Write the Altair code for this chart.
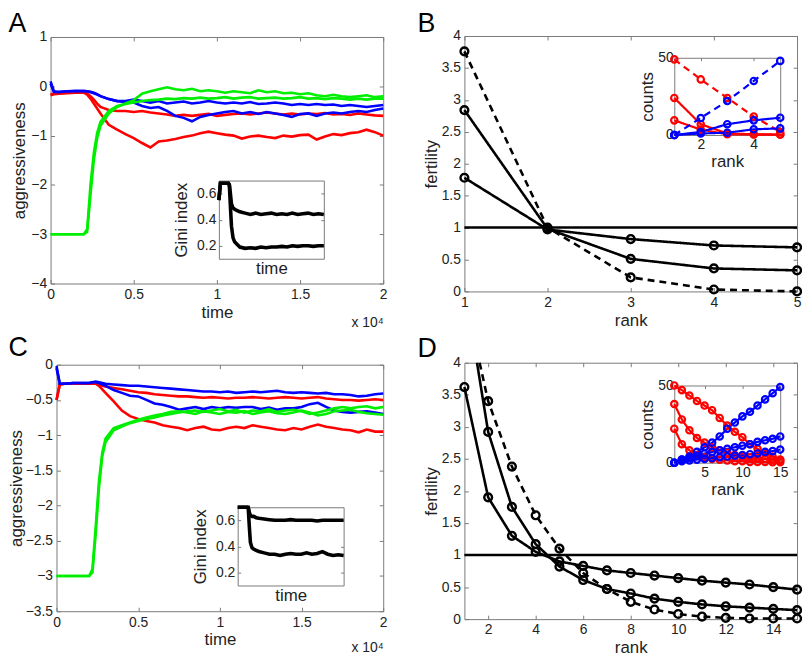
import altair as alt
import pandas as pd

# ---------------- data ----------------
T = [0, 200, 500, 1000, 1500, 2000, 2200, 2400, 2600, 2800, 3000, 3500, 4000, 4500,
     5000, 5500, 6000, 6500, 7000, 7500, 8000, 8500, 9000, 9500, 10000, 10500, 11000,
     11500, 12000, 12500, 13000, 13500, 14000, 14500, 15000, 15500, 16000, 16500, 17000,
     17500, 18000, 18500, 19000, 19500, 20000]

A_RED_1 = [-0.16, -0.15, -0.14, -0.13, -0.12, -0.12, -0.15, -0.2, -0.27, -0.35, -0.42, -0.48, -0.5, -0.5,
           -0.52, -0.5, -0.53, -0.55, -0.57, -0.6, -0.58, -0.6, -0.58, -0.56, -0.6, -0.58, -0.56,
           -0.55, -0.57, -0.55, -0.53, -0.55, -0.57, -0.55, -0.57, -0.55, -0.56, -0.54, -0.57,
           -0.56, -0.58, -0.55, -0.57, -0.59, -0.6]
A_RED_2 = [-0.18, -0.16, -0.15, -0.14, -0.13, -0.13, -0.17, -0.25, -0.35, -0.45, -0.55, -0.78, -0.88, -0.97,
           -1.05, -1.15, -1.24, -1.12, -1.1, -1.07, -1.03, -1.0, -0.95, -0.92, -0.95, -0.98, -1.0,
           -1.06, -1.02, -1.0, -1.03, -1.05, -1.0, -1.02, -0.99, -0.98, -1.08, -1.02, -0.97,
           -0.99, -0.95, -0.93, -0.88, -0.93, -1.0]
A_BLUE_1 = [0.1, -0.1, -0.12, -0.1, -0.09, -0.1, -0.1, -0.11, -0.13, -0.16, -0.2, -0.26, -0.3, -0.3,
            -0.27, -0.3, -0.33, -0.3, -0.35, -0.33, -0.31, -0.35, -0.33, -0.3, -0.33, -0.35, -0.33,
            -0.35, -0.32, -0.36, -0.35, -0.33, -0.35, -0.38, -0.36, -0.38, -0.36, -0.38, -0.37,
            -0.4, -0.38, -0.4, -0.42, -0.4, -0.38]
A_BLUE_2 = [0.05, -0.12, -0.11, -0.1, -0.1, -0.09, -0.1, -0.12, -0.14, -0.17, -0.2, -0.26, -0.3, -0.32,
            -0.33, -0.4, -0.44, -0.42, -0.5, -0.6, -0.64, -0.71, -0.62, -0.58, -0.55, -0.52, -0.5,
            -0.55, -0.52, -0.56, -0.52, -0.55, -0.58, -0.62, -0.56, -0.55, -0.6, -0.55, -0.53,
            -0.55, -0.52, -0.5, -0.52, -0.48, -0.45]
A_GREEN_1 = [-3, -3, -3, -3, -3, -3, -2.95, -2.2, -1.5, -1.05, -0.8, -0.55, -0.42, -0.35,
             -0.28, -0.15, -0.1, -0.06, -0.02, -0.06, -0.08, -0.05, -0.1, -0.08, -0.1, -0.13, -0.1,
             -0.12, -0.14, -0.08, -0.12, -0.1, -0.14, -0.13, -0.16, -0.14, -0.18, -0.2, -0.17,
             -0.2, -0.22, -0.2, -0.18, -0.22, -0.2]
A_GREEN_2 = [-3, -3, -3, -3, -3, -3, -2.9, -2.0, -1.35, -0.95, -0.72, -0.5, -0.4, -0.36,
             -0.33, -0.3, -0.28, -0.27, -0.25, -0.26, -0.24, -0.25, -0.23, -0.25, -0.24, -0.22, -0.25,
             -0.23, -0.22, -0.25, -0.24, -0.23, -0.25, -0.24, -0.22, -0.25, -0.24, -0.26, -0.24,
             -0.25, -0.27, -0.25, -0.27, -0.25, -0.25]

C_RED_1 = [-0.5, -0.28, -0.27, -0.27, -0.27, -0.27, -0.27, -0.27, -0.28, -0.3, -0.31, -0.33, -0.35, -0.37,
           -0.39, -0.4, -0.42, -0.43, -0.44, -0.45, -0.45, -0.46, -0.47, -0.46, -0.47, -0.48, -0.47,
           -0.47, -0.46, -0.47, -0.48, -0.47, -0.46, -0.47, -0.48, -0.47, -0.46, -0.48, -0.49,
           -0.5, -0.5, -0.51, -0.5, -0.49, -0.5]
C_RED_2 = [-0.5, -0.28, -0.27, -0.27, -0.27, -0.27, -0.27, -0.27, -0.3, -0.35, -0.4, -0.52, -0.65, -0.73,
           -0.77, -0.8, -0.82, -0.86, -0.88, -0.9, -0.93, -0.9, -0.88, -0.92, -0.93, -0.9, -0.88,
           -0.9, -0.86, -0.88, -0.9, -0.92, -0.93, -0.9, -0.92, -0.88, -0.85, -0.88, -0.9,
           -0.92, -0.93, -0.96, -0.92, -0.95, -0.95]
C_BLUE_1 = [-0.02, -0.27, -0.27, -0.26, -0.26, -0.26, -0.25, -0.24, -0.25, -0.26, -0.27, -0.28, -0.29, -0.3,
            -0.3, -0.31, -0.32, -0.33, -0.34, -0.35, -0.36, -0.37, -0.38, -0.38, -0.39, -0.38, -0.4,
            -0.39, -0.38, -0.39, -0.38, -0.37, -0.39, -0.4, -0.39, -0.4, -0.41, -0.4, -0.42,
            -0.42, -0.43, -0.45, -0.44, -0.42, -0.41]
C_BLUE_2 = [-0.05, -0.27, -0.27, -0.26, -0.26, -0.26, -0.25, -0.25, -0.26, -0.28, -0.3, -0.36, -0.4, -0.44,
            -0.45, -0.5, -0.55, -0.57, -0.6, -0.64, -0.62, -0.6, -0.63, -0.6, -0.62, -0.6, -0.61,
            -0.6, -0.6, -0.63, -0.61, -0.64, -0.62, -0.62, -0.6, -0.56, -0.54, -0.6, -0.65,
            -0.67, -0.68, -0.67, -0.66, -0.68, -0.7]
C_GREEN_1 = [-3, -3, -3, -3, -3, -3, -2.95, -2.4, -1.75, -1.3, -1.1, -0.93, -0.88, -0.83,
             -0.8, -0.77, -0.75, -0.72, -0.7, -0.68, -0.66, -0.65, -0.67, -0.65, -0.63, -0.66, -0.64,
             -0.68, -0.65, -0.66, -0.63, -0.67, -0.65, -0.64, -0.66, -0.7, -0.68, -0.65, -0.62,
             -0.6, -0.62, -0.6, -0.59, -0.62, -0.6]
C_GREEN_2 = [-3, -3, -3, -3, -3, -3, -2.9, -2.3, -1.65, -1.25, -1.05, -0.9, -0.86, -0.82,
             -0.78, -0.75, -0.72, -0.7, -0.67, -0.66, -0.68, -0.7, -0.66, -0.68, -0.7, -0.67, -0.68,
             -0.66, -0.7, -0.68, -0.66, -0.69, -0.7, -0.68, -0.65, -0.68, -0.72, -0.7, -0.66,
             -0.65, -0.64, -0.67, -0.69, -0.7, -0.71]

GT = [0, 300, 1800, 2000, 2200, 2400, 2700, 3000, 3500, 4000, 5000, 6000, 7000, 8000, 9000,
      10000, 11000, 12000, 13000, 14000, 15000, 16000, 17000, 18000, 19000, 20000]
A_GINI_HI = [0.55, 0.68, 0.68, 0.67, 0.6, 0.52, 0.49, 0.48, 0.47, 0.46, 0.45, 0.44, 0.45, 0.44, 0.445,
             0.45, 0.44, 0.445, 0.44, 0.45, 0.44, 0.445, 0.45, 0.44, 0.445, 0.44]
A_GINI_LO = [0.55, 0.68, 0.68, 0.66, 0.5, 0.35, 0.26, 0.23, 0.21, 0.19, 0.18, 0.185, 0.18, 0.19, 0.185,
             0.19, 0.19, 0.195, 0.19, 0.2, 0.195, 0.2, 0.2, 0.195, 0.2, 0.2]
C_GINI_HI = [0.7, 0.7, 0.7, 0.7, 0.66, 0.64, 0.63, 0.63, 0.62, 0.615, 0.61, 0.605, 0.6, 0.6, 0.6,
             0.605, 0.6, 0.6, 0.6, 0.6, 0.595, 0.6, 0.6, 0.6, 0.6, 0.6]
C_GINI_LO = [0.7, 0.7, 0.7, 0.69, 0.55, 0.43, 0.39, 0.38, 0.37, 0.36, 0.35, 0.34, 0.34, 0.33, 0.34,
             0.345, 0.34, 0.34, 0.35, 0.34, 0.345, 0.36, 0.34, 0.33, 0.335, 0.33]

RANK5 = [1, 2, 3, 4, 5]
B_DASH = [3.76, 1.0, 0.22, 0.03, 0.0]
B_SOLID_1 = [2.84, 0.98, 0.51, 0.36, 0.33]
B_SOLID_2 = [1.78, 0.97, 0.82, 0.72, 0.69]
B_IN_RED_D = [49, 36, 24, 12, 2]
B_IN_BLUE_D = [0, 11, 22, 35, 48]
B_IN_RED_1 = [24, 7, 1, 0.5, 0.3]
B_IN_RED_2 = [9.5, 3.5, 0.5, 0.3, 0.3]
B_IN_BLUE_1 = [0, 2, 7, 9.5, 11.2]
B_IN_BLUE_2 = [0, 1, 1.5, 3.7, 4.3]

RANK15 = list(range(1, 16))
# the two steepest curves leave the top of panel D; their visible part starts at the top edge
D_DASH_X = [1.64] + RANK15[1:]
D_DASH = [4.0, 3.4, 2.38, 1.62, 1.1, 0.72, 0.47, 0.27, 0.15, 0.08, 0.04, 0.02, 0.01, 0.01, 0.01]
D_SOLID_1_X = [1.53] + RANK15[1:]
D_SOLID_1 = [4.0, 2.92, 1.75, 1.17, 0.82, 0.61, 0.47, 0.4, 0.32, 0.27, 0.23, 0.2, 0.18, 0.16, 0.14]
D_SOLID_2 = [3.62, 1.9, 1.3, 1.05, 0.9, 0.83, 0.76, 0.72, 0.68, 0.64, 0.6, 0.57, 0.54, 0.5, 0.46]
D_IN_RED_1 = [50, 47, 43.5, 40, 37, 34, 29, 24, 20, 16.5, 12, 9, 6, 4, 2]
D_IN_RED_2 = [38, 28, 21, 16, 13, 10, 8, 6.5, 5, 4, 3.5, 3, 2.5, 2, 1.5]
D_IN_RED_3 = [22, 12, 8, 5, 3.5, 2.5, 2, 1.5, 1, 1, 0.5, 0.5, 0.5, 0.3, 0.3]
D_IN_BLUE_1 = [0, 2, 4, 7, 10, 13, 17, 22, 26, 30, 33, 37, 41, 45, 49]
D_IN_BLUE_2 = [0, 2, 3, 4.5, 6, 7, 8, 9, 10, 11, 12, 13.5, 14.5, 15.5, 17]
D_IN_BLUE_3 = [0, 1, 1.5, 2, 2.5, 3, 3.5, 4, 4.5, 5, 5.5, 6, 7, 7.5, 8.5]

# ---------------- styling / layout ----------------
FONT = "Liberation Sans"
AXC = "#7a7a7a"
TXT = "#222222"
RED, BLUE, GREEN, BLACK = "#ff0000", "#0000ff", "#00ee00", "#000000"
DASH = alt.Scale(domain=["solid", "dashed"], range=[[1, 0], [7, 5]])
CW, CH = 802, 654   # whole figure

BOX_A, BOX_B = (43, 379, 26, 275), (461, 797, 25, 283)
BOX_C, BOX_D = (49, 379, 357, 606), (461, 797, 355, 614)
IN_A, IN_B = (213, 319, 171, 250), (673, 780, 47, 125)
IN_C, IN_D = (232, 339, 501, 580), (673, 780, 378, 456)


def long(series):
    rows = []
    for sid, col, sty, xs, vals in series:
        for x, v in zip(xs, vals):
            rows.append({"x": x, "v": v, "id": sid, "col": col, "sty": sty})
    return pd.DataFrame(rows)


def frame(df, xdom, ydom, box, xvals, yvals, xtitle, ytitle, xexpr, yfmt,
          tick, lpx, lpy, tpx, tpy):
    x0, x1, y0, y1 = box

    def xs():
        return alt.Scale(domain=xdom, range=[x0, x1], nice=False, zero=False)

    def ys():
        return alt.Scale(domain=ydom, range=[y1, y0], nice=False, zero=False)

    def tick_axis(orient, offset, vals):
        return alt.Axis(orient=orient, offset=offset, values=vals, labels=False,
                        ticks=len(vals) > 0, tickSize=tick, domain=True, grid=False,
                        title=None, domainColor=AXC, tickColor=AXC)

    base = alt.Chart(df).mark_point(opacity=0)
    d1 = base.encode(
        x=alt.X("x:Q", scale=xs(), axis=tick_axis("bottom", y0 - CH, xvals)),
        y=alt.Y("v:Q", scale=ys(), axis=tick_axis("left", -x1, yvals)))
    d2 = base.encode(
        x=alt.X("x:Q", scale=xs(), axis=tick_axis("top", -y1, xvals)),
        y=alt.Y("v:Q", scale=ys(), axis=tick_axis("right", x0 - CW, yvals)))
    xkw = dict(orient="bottom", offset=y1 - CH, values=xvals, ticks=False, domain=False,
               grid=False, title=xtitle, labelPadding=lpx, titlePadding=tpx, labelFlush=False,
               format="d")
    if xexpr:
        xkw["labelExpr"] = xexpr
    d3 = base.encode(
        x=alt.X("x:Q", scale=xs(), axis=alt.Axis(**xkw)),
        y=alt.Y("v:Q", scale=ys(), axis=alt.Axis(
            orient="left", offset=-x0, values=yvals, format=yfmt, ticks=False, domain=False,
            grid=False, title=ytitle, labelPadding=lpy, titlePadding=tpy, labelFlush=False)))
    return xs, ys, [d1, d2, d3]


def letter_layer(df, s, lx, lbase, box, exp=None):
    x0, x1, y0, y1 = box
    enc = dict(x=alt.X("x:Q", axis=alt.Axis(
        orient="top", offset=-y0, labels=False, ticks=False, domain=False, grid=False,
        title=s, titleX=lx, titleY=lbase - y0, titleAlign="left", titleBaseline="alphabetic",
        titleAngle=0, titleFontSize=27, titleColor="#000000")))
    if exp is not None:
        enc["y"] = alt.Y("v:Q", axis=alt.Axis(
            orient="left", offset=-x0, labels=False, ticks=False, domain=False, grid=False,
            title="x 10⁴", titleX=x1 - x0, titleY=exp, titleAlign="right",
            titleBaseline="alphabetic", titleAngle=0, titleFontSize=14))
    else:
        enc["y"] = alt.Y("v:Q", axis=None)
    return alt.Chart(df).mark_point(opacity=0).encode(**enc)


def time_panel(name, lx, lbase, lines, ydom, yvals, box, ibox, ghi, glo, expy, tpy):
    df = long([(sid, col, "solid", T, vals) for sid, col, vals in lines])
    xs, ys, layers = frame(df, [0, 20000], ydom, box, [0, 5000, 10000, 15000, 20000], yvals,
                           "time", "aggressiveness", "format(datum.value / 10000, '~g')", "~g",
                           4, 4, 4, 3, tpy)
    main = alt.Chart(df).mark_line(strokeWidth=2.6).encode(
        x=alt.X("x:Q", scale=xs(), axis=None), y=alt.Y("v:Q", scale=ys(), axis=None),
        color=alt.Color("col:N", scale=None, legend=None), detail="id:N")
    gdf = long([("hi", BLACK, "solid", GT, ghi), ("lo", BLACK, "solid", GT, glo)])
    gxs, gys, glayers = frame(gdf, [0, 20000], [0.1, 0.7], ibox, [], [0.2, 0.4, 0.6],
                              "time", "Gini index", None, "~g", 3, 3, 3, 2, 6)
    gini = alt.Chart(gdf).mark_line(strokeWidth=3.6, color=BLACK).encode(
        x=alt.X("x:Q", scale=gxs(), axis=None), y=alt.Y("v:Q", scale=gys(), axis=None),
        detail="id:N")
    return layers + [main] + glayers + [gini, letter_layer(df, name, lx, lbase, box, expy)]


def rank_panel(name, lx, lbase, ranks, mlines, xvals, box, ibox, ilines, ixvals):
    df = long(mlines)
    xs, ys, layers = frame(df, [ranks[0], ranks[-1]], [0, 4], box, xvals,
                           [0, 0.5, 1, 1.5, 2, 2.5, 3, 3.5, 4], "rank", "fertility",
                           None, "~g", 4, 4, 4, 3, 1)
    one = pd.DataFrame({"x": [ranks[0]], "x2": [ranks[-1]], "v": [1]})
    rule = alt.Chart(one).mark_rule(color=BLACK, strokeWidth=2.6).encode(
        x=alt.X("x:Q", scale=xs(), axis=None), x2="x2:Q",
        y=alt.Y("v:Q", scale=ys(), axis=None))
    mline = alt.Chart(df).mark_line(strokeWidth=2.6, color=BLACK).encode(
        x=alt.X("x:Q", scale=xs(), axis=None), y=alt.Y("v:Q", scale=ys(), axis=None),
        detail="id:N", strokeDash=alt.StrokeDash("sty:N", scale=DASH, legend=None))
    mpts = alt.Chart(df).transform_filter("datum.x == round(datum.x)").mark_point(
        shape="circle", filled=False, size=62, strokeWidth=2.4, color=BLACK, opacity=1).encode(
        x=alt.X("x:Q", scale=xs(), axis=None), y=alt.Y("v:Q", scale=ys(), axis=None))
    idf = long([(sid, col, sty, ranks, vals) for sid, col, sty, vals in ilines])
    ixs, iys, ilayers = frame(idf, [ranks[0], ranks[-1]], [0, 50], ibox, ixvals, [0, 50],
                              "rank", "counts", None, "d", 3, 3, 1, 2, 1)
    iline = alt.Chart(idf).mark_line(strokeWidth=2.2).encode(
        x=alt.X("x:Q", scale=ixs(), axis=None), y=alt.Y("v:Q", scale=iys(), axis=None),
        color=alt.Color("col:N", scale=None, legend=None), detail="id:N",
        strokeDash=alt.StrokeDash("sty:N", scale=DASH, legend=None))
    ipts = alt.Chart(idf).mark_point(shape="circle", filled=False, size=42, strokeWidth=2.2,
                                     opacity=1).encode(
        x=alt.X("x:Q", scale=ixs(), axis=None), y=alt.Y("v:Q", scale=iys(), axis=None),
        color=alt.Color("col:N", scale=None, legend=None), detail="id:N")
    return (layers + [rule, mline, mpts] + ilayers + [iline, ipts]
            + [letter_layer(df, name, lx, lbase, box)])


pA = time_panel("A", 0, 20,
                [("r1", RED, A_RED_1), ("r2", RED, A_RED_2), ("b1", BLUE, A_BLUE_1),
                 ("b2", BLUE, A_BLUE_2), ("g1", GREEN, A_GREEN_1), ("g2", GREEN, A_GREEN_2)],
                [-4, 1], [-4, -3, -2, -1, 0, 1], BOX_A, IN_A, A_GINI_HI, A_GINI_LO, 318, 2)
pC = time_panel("C", 0, 348,
                [("r1", RED, C_RED_1), ("r2", RED, C_RED_2), ("b1", BLUE, C_BLUE_1),
                 ("b2", BLUE, C_BLUE_2), ("g1", GREEN, C_GREEN_1), ("g2", GREEN, C_GREEN_2)],
                [-3.5, 0], [-3.5, -3, -2.5, -2, -1.5, -1, -0.5, 0], BOX_C, IN_C,
                C_GINI_HI, C_GINI_LO, 647, 0)
pB = rank_panel("B", 413, 20, RANK5,
                [("d", BLACK, "dashed", RANK5, B_DASH), ("s1", BLACK, "solid", RANK5, B_SOLID_1),
                 ("s2", BLACK, "solid", RANK5, B_SOLID_2)],
                [1, 2, 3, 4, 5], BOX_B, IN_B,
                [("rd", RED, "dashed", B_IN_RED_D), ("r1", RED, "solid", B_IN_RED_1),
                 ("r2", RED, "solid", B_IN_RED_2), ("bd", BLUE, "dashed", B_IN_BLUE_D),
                 ("b1", BLUE, "solid", B_IN_BLUE_1), ("b2", BLUE, "solid", B_IN_BLUE_2)],
                [2, 4])
pD = rank_panel("D", 413, 349, RANK15,
                [("d", BLACK, "dashed", D_DASH_X, D_DASH),
                 ("s1", BLACK, "solid", D_SOLID_1_X, D_SOLID_1),
                 ("s2", BLACK, "solid", RANK15, D_SOLID_2)],
                [2, 4, 6, 8, 10, 12, 14], BOX_D, IN_D,
                [("r1", RED, "solid", D_IN_RED_1), ("r2", RED, "solid", D_IN_RED_2),
                 ("r3", RED, "solid", D_IN_RED_3), ("b1", BLUE, "solid", D_IN_BLUE_1),
                 ("b2", BLUE, "solid", D_IN_BLUE_2), ("b3", BLUE, "solid", D_IN_BLUE_3)],
                [5, 10, 15])

chart = alt.layer(*(pA + pB + pC + pD)).resolve_scale(
    x="independent", y="independent").resolve_axis(
    x="independent", y="independent").properties(
    width=CW, height=CH, padding=0, autosize=alt.AutoSizeParams(type="none")
).configure_axis(
    labelFont=FONT, titleFont=FONT, labelFontSize=14, titleFontSize=17,
    titleFontWeight="normal", labelColor=TXT, titleColor=TXT,
    domainColor=AXC, tickColor=AXC,
).configure_view(stroke=None)

chart.save("out.html", embed_options={"renderer": "svg", "actions": False})
